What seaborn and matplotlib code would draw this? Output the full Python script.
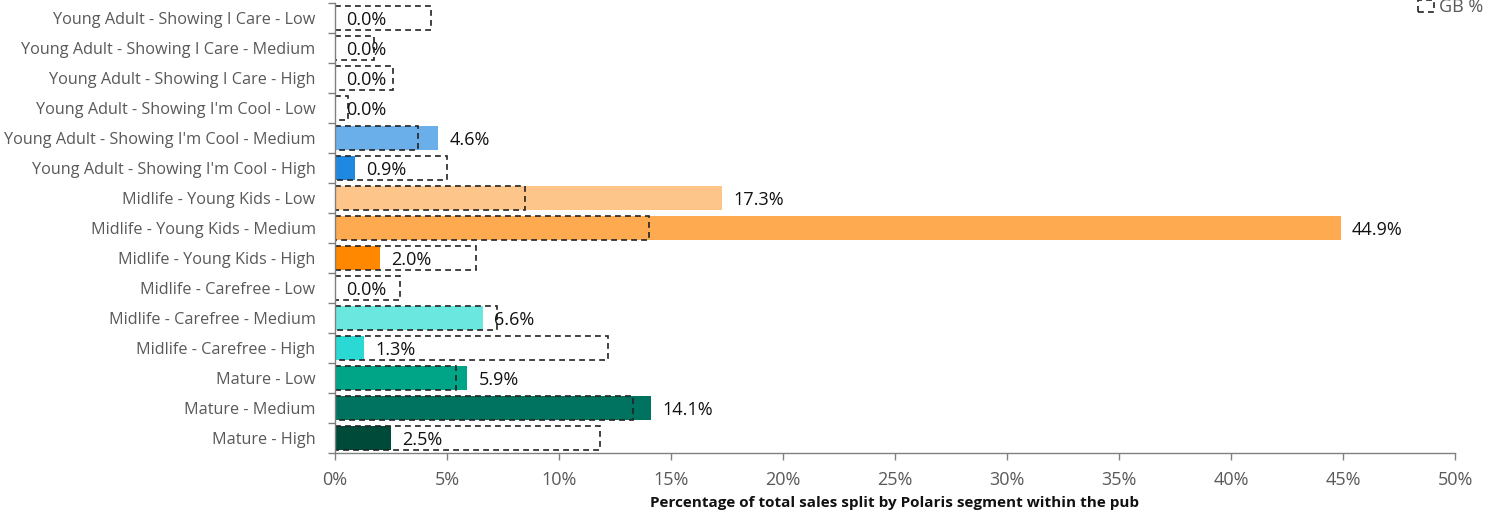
import numpy as np
import pandas as pd
import matplotlib
matplotlib.use("Agg")
import matplotlib.pyplot as plt
import seaborn as sns
from matplotlib.ticker import PercentFormatter, FixedLocator

# Data

SEGMENTS = [
    "Young Adult - Showing I Care - Low",
    "Young Adult - Showing I Care - Medium",
    "Young Adult - Showing I Care - High",
    "Young Adult - Showing I'm Cool - Low",
    "Young Adult - Showing I'm Cool - Medium",
    "Young Adult - Showing I'm Cool - High",
    "Midlife - Young Kids - Low",
    "Midlife - Young Kids - Medium",
    "Midlife - Young Kids - High",
    "Midlife - Carefree - Low",
    "Midlife - Carefree - Medium",
    "Midlife - Carefree - High",
    "Mature - Low",
    "Mature - Medium",
    "Mature - High",
]
PUB_PCT = [0.0, 0.0, 0.0, 0.0, 4.6, 0.9, 17.3, 44.9, 2.0, 0.0, 6.6, 1.3, 5.9, 14.1, 2.5]
GB_PCT = [4.3, 1.75, 2.6, 0.6, 3.7, 5.0, 8.5, 14.0, 6.3, 2.9, 7.25, 12.2, 5.4, 13.3, 11.85]
COLORS = [
    "#9ec9f2", "#6aaeea", "#3d95e3",
    "#9ec9f2", "#6aaeea", "#1f88e0",
    "#fdc58a", "#fdaa50", "#ff8800",
    "#a8f0ec", "#6ae8e0", "#2ad9d3",
    "#00a487", "#007360", "#004a3a",
]

# Plot

sns.set_theme(style="white")
plt.rcParams["font.family"] = ["Open Sans", "DejaVu Sans"]

df = pd.DataFrame({"segment": SEGMENTS, "pub": PUB_PCT, "gb": GB_PCT})

fig = plt.figure(figsize=(14.94, 5.16), dpi=100)
ax = fig.add_axes([0.2242, 0.122, 0.7497, 0.872])

sns.barplot(
    data=df, x="pub", y="segment", hue="segment", palette=COLORS,
    legend=False, width=0.8, saturation=1, ax=ax, linewidth=0,
)
sns.barplot(
    data=df, x="gb", y="segment", fill=False, width=0.8, ax=ax,
    edgecolor="#222222", linewidth=1.2, linestyle=(0, (3.5, 2.5)),
    label="GB %",
)

for i, v in enumerate(PUB_PCT):
    ax.text(v + 0.5, i + 0.05, f"{v:.1f}%", va="center", ha="left",
            fontsize=13, color="#111111")

ax.set_xlim(0, 50)
ax.set_ylim(len(SEGMENTS) - 0.5, -0.5)
ax.xaxis.set_major_locator(FixedLocator(np.arange(0, 51, 5)))
ax.xaxis.set_major_formatter(PercentFormatter(decimals=0))
ax.set_xlabel("Percentage of total sales split by Polaris segment within the pub",
              fontsize=11, fontweight="bold", color="#111111", labelpad=5)
ax.set_ylabel("")

for side in ["top", "right"]:
    ax.spines[side].set_visible(False)
for side in ["left", "bottom"]:
    ax.spines[side].set_color("#808080")
    ax.spines[side].set_linewidth(1)

ax.tick_params(axis="x", colors="#595959", labelsize=13, length=5,
               direction="out", bottom=True, width=1, pad=8)
ax.tick_params(axis="x", color="#808080")
ax.tick_params(axis="y", labelsize=11.7, labelcolor="#595959", length=0, pad=14)
ax.set_yticks(range(len(SEGMENTS)))
ax.set_yticks(np.arange(-0.5, len(SEGMENTS), 1), minor=True)
ax.tick_params(axis="y", which="minor", length=5, color="#808080", left=True, width=1)

handles, labels = ax.get_legend_handles_labels()
if ax.get_legend() is not None:
    ax.get_legend().remove()
fig.legend(handles, labels, loc="upper right",
           bbox_to_anchor=(1.004, 1.035), frameon=False,
           fontsize=13, handlelength=0.9, handletextpad=0.3,
           labelcolor="#595959")

fig.savefig("out.png", dpi=100)
